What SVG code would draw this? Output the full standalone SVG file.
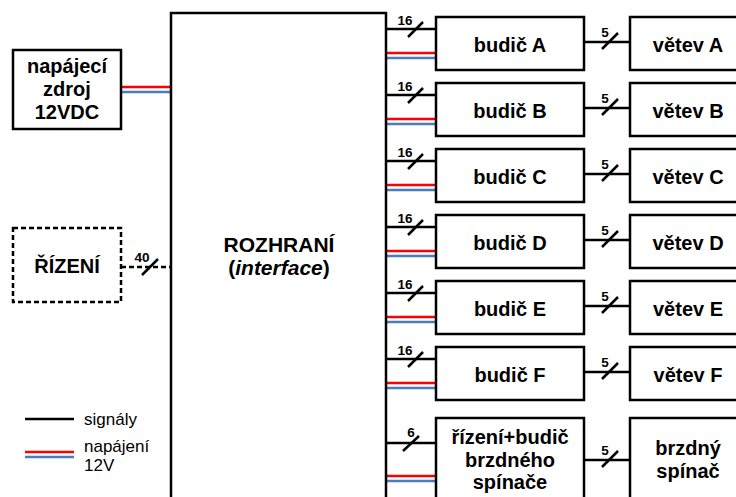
<svg xmlns="http://www.w3.org/2000/svg" width="736" height="497" viewBox="0 0 736 497">
<style>
.box{fill:#fff;stroke:#000;stroke-width:2.5}
.dbox{fill:#fff;stroke:#000;stroke-width:2.5;stroke-dasharray:5,3}
.t{font-family:"Liberation Sans",Arial,sans-serif;font-weight:bold;font-size:20px;text-anchor:middle;fill:#000}
.big{font-size:21px}
.lbl{font-family:"Liberation Sans",Arial,sans-serif;font-weight:bold;font-size:13.5px;text-anchor:middle;fill:#000}
.leg{font-family:"Liberation Sans",Arial,sans-serif;font-size:17px;fill:#000}
.sig{stroke:#000;stroke-width:2.5;fill:none}
.dsig{stroke:#000;stroke-width:2.5;fill:none;stroke-dasharray:5,3}
.red{stroke:#ff0000;stroke-width:2.5;fill:none}
.blue{stroke:#4a7ebb;stroke-width:2.5;fill:none}
</style>
<rect width="736" height="497" fill="#fff"/>
<g id="connectors">
  <line class="red" x1="121" y1="87" x2="171" y2="87"/>
  <line class="blue" x1="121" y1="92" x2="171" y2="92"/>
  <line class="dsig" x1="121" y1="267" x2="171" y2="267"/>
  <line class="sig" x1="142" y1="275" x2="158" y2="259"/>
  <text class="lbl" x="142" y="262">40</text>

  <g id="conn-A">
    <line class="sig" x1="386" y1="29" x2="436" y2="29"/><line class="sig" x1="408" y1="37" x2="423" y2="22"/><text class="lbl" x="405" y="25">16</text>
    <line class="red" x1="386" y1="53" x2="436" y2="53"/><line class="blue" x1="386" y1="58" x2="436" y2="58"/>
    <line class="sig" x1="584" y1="42" x2="630" y2="42"/><line class="sig" x1="602" y1="49" x2="618" y2="33"/><text class="lbl" x="605" y="37">5</text>
  </g>
  <g id="conn-B">
    <line class="sig" x1="386" y1="95" x2="436" y2="95"/><line class="sig" x1="408" y1="103" x2="423" y2="88"/><text class="lbl" x="405" y="91">16</text>
    <line class="red" x1="386" y1="119" x2="436" y2="119"/><line class="blue" x1="386" y1="124" x2="436" y2="124"/>
    <line class="sig" x1="584" y1="108" x2="630" y2="108"/><line class="sig" x1="602" y1="115" x2="618" y2="99"/><text class="lbl" x="605" y="103">5</text>
  </g>
  <g id="conn-C">
    <line class="sig" x1="386" y1="161" x2="436" y2="161"/><line class="sig" x1="408" y1="169" x2="423" y2="154"/><text class="lbl" x="405" y="157">16</text>
    <line class="red" x1="386" y1="185" x2="436" y2="185"/><line class="blue" x1="386" y1="190" x2="436" y2="190"/>
    <line class="sig" x1="584" y1="174" x2="630" y2="174"/><line class="sig" x1="602" y1="181" x2="618" y2="165"/><text class="lbl" x="605" y="169">5</text>
  </g>
  <g id="conn-D">
    <line class="sig" x1="386" y1="227" x2="436" y2="227"/><line class="sig" x1="408" y1="235" x2="423" y2="220"/><text class="lbl" x="405" y="223">16</text>
    <line class="red" x1="386" y1="251" x2="436" y2="251"/><line class="blue" x1="386" y1="256" x2="436" y2="256"/>
    <line class="sig" x1="584" y1="240" x2="630" y2="240"/><line class="sig" x1="602" y1="247" x2="618" y2="231"/><text class="lbl" x="605" y="235">5</text>
  </g>
  <g id="conn-E">
    <line class="sig" x1="386" y1="293" x2="436" y2="293"/><line class="sig" x1="408" y1="301" x2="423" y2="286"/><text class="lbl" x="405" y="289">16</text>
    <line class="red" x1="386" y1="317" x2="436" y2="317"/><line class="blue" x1="386" y1="322" x2="436" y2="322"/>
    <line class="sig" x1="584" y1="306" x2="630" y2="306"/><line class="sig" x1="602" y1="313" x2="618" y2="297"/><text class="lbl" x="605" y="301">5</text>
  </g>
  <g id="conn-F">
    <line class="sig" x1="386" y1="359" x2="436" y2="359"/><line class="sig" x1="408" y1="367" x2="423" y2="352"/><text class="lbl" x="405" y="355">16</text>
    <line class="red" x1="386" y1="383" x2="436" y2="383"/><line class="blue" x1="386" y1="388" x2="436" y2="388"/>
    <line class="sig" x1="584" y1="372" x2="630" y2="372"/><line class="sig" x1="602" y1="379" x2="618" y2="363"/><text class="lbl" x="605" y="367">5</text>
  </g>
  <g id="conn-brake">
    <line class="sig" x1="386" y1="443" x2="436" y2="443"/><line class="sig" x1="403" y1="451" x2="419" y2="436"/><text class="lbl" x="411" y="437">6</text>
    <line class="red" x1="386" y1="476" x2="436" y2="476"/><line class="blue" x1="386" y1="481" x2="436" y2="481"/>
    <line class="sig" x1="584" y1="460" x2="630" y2="460"/><line class="sig" x1="602" y1="467" x2="618" y2="451"/><text class="lbl" x="605" y="455">5</text>
  </g>
</g>

<g id="power">
  <rect class="box" x="13" y="50" width="108" height="79"/>
  <text class="t" x="67" y="73">napájecí</text>
  <text class="t" x="67" y="96">zdroj</text>
  <text class="t" x="67" y="119">12VDC</text>
</g>
<g id="control">
  <rect class="dbox" x="13" y="228" width="108" height="74"/>
  <text class="t" x="67" y="273">ŘÍZENÍ</text>
</g>
<g id="interface">
  <rect class="box" x="171" y="13" width="215" height="500"/>
  <text class="t big" x="279" y="252">ROZHRANÍ</text>
  <text class="t big" x="279" y="275">(<tspan font-style="italic">interface</tspan>)</text>
</g>

<g id="budic-A"><rect class="box" x="436" y="17" width="148" height="53"/><text class="t" x="510" y="52">budič A</text></g>
<g id="budic-B"><rect class="box" x="436" y="83" width="148" height="53"/><text class="t" x="510" y="118">budič B</text></g>
<g id="budic-C"><rect class="box" x="436" y="149" width="148" height="53"/><text class="t" x="510" y="184">budič C</text></g>
<g id="budic-D"><rect class="box" x="436" y="215" width="148" height="53"/><text class="t" x="510" y="250">budič D</text></g>
<g id="budic-E"><rect class="box" x="436" y="281" width="148" height="53"/><text class="t" x="510" y="316">budič E</text></g>
<g id="budic-F"><rect class="box" x="436" y="347" width="148" height="53"/><text class="t" x="510" y="382">budič F</text></g>
<g id="budic-brake"><rect class="box" x="436" y="418" width="148" height="95"/>
  <text class="t" x="510" y="444">řízení+budič</text>
  <text class="t" x="510" y="467">brzdného</text>
  <text class="t" x="510" y="489">spínače</text>
</g>

<g id="vetev-A"><rect class="box" x="630" y="17" width="116" height="53"/><text class="t" x="688" y="52">větev A</text></g>
<g id="vetev-B"><rect class="box" x="630" y="83" width="116" height="53"/><text class="t" x="688" y="118">větev B</text></g>
<g id="vetev-C"><rect class="box" x="630" y="149" width="116" height="53"/><text class="t" x="688" y="184">větev C</text></g>
<g id="vetev-D"><rect class="box" x="630" y="215" width="116" height="53"/><text class="t" x="688" y="250">větev D</text></g>
<g id="vetev-E"><rect class="box" x="630" y="281" width="116" height="53"/><text class="t" x="688" y="316">větev E</text></g>
<g id="vetev-F"><rect class="box" x="630" y="347" width="116" height="53"/><text class="t" x="688" y="382">větev F</text></g>
<g id="brake-switch"><rect class="box" x="630" y="418" width="116" height="95"/>
  <text class="t" x="688" y="455">brzdný</text>
  <text class="t" x="688" y="478">spínač</text>
</g>

<g id="legend">
  <line class="sig" x1="25" y1="419" x2="74" y2="419"/>
  <text class="leg" x="84" y="425">signály</text>
  <line class="red" x1="25" y1="452" x2="74" y2="452"/>
  <line class="blue" x1="25" y1="457" x2="74" y2="457"/>
  <text class="leg" x="84" y="452">napájení</text>
  <text class="leg" x="84" y="471">12V</text>
</g>
</svg>
